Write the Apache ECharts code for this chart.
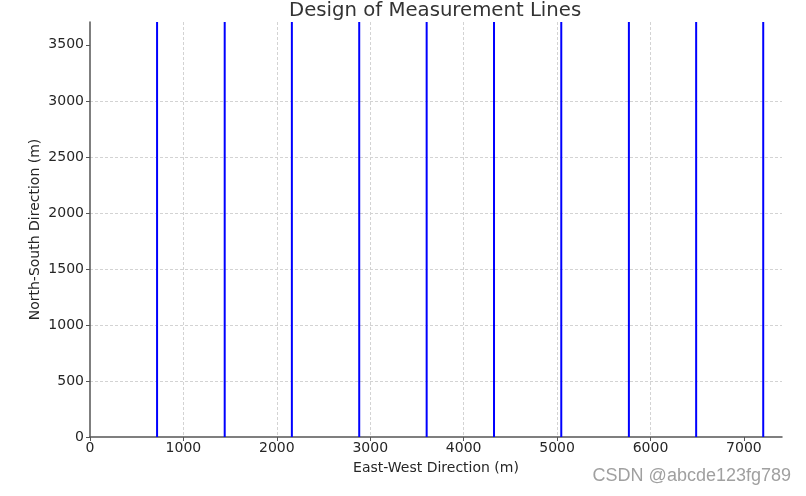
<!DOCTYPE html>
<html>
<head>
<meta charset="utf-8">
<script src="https://cdn.jsdelivr.net/npm/echarts@6/dist/echarts.min.js"></script>
<style>html,body{margin:0;padding:0;background:#fff}#c{width:806px;height:496px}</style>
</head>
<body>
<div id="c"></div>
<script>
var lineX = [718, 1442, 2161, 2882, 3604, 4325, 5045, 5769, 6489, 7207];
var xMax = 7408;
var yMax = 3704;
var xTicks = [0, 1000, 2000, 3000, 4000, 5000, 6000, 7000];
var yTicks = [0, 500, 1000, 1500, 2000, 2500, 3000, 3500];
var titleText = 'Design of Measurement Lines';
var xName = 'East-West Direction (m)';
var yName = 'North-South Direction (m)';

var chart = echarts.init(document.getElementById('c'));
var series = lineX.map(function (x) {
  return {
    type: 'line', symbol: 'none', silent: true,
    data: [[x, 0], [x, yMax]],
    lineStyle: { color: '#0000ff', width: 2 }
  };
});
var font = 'DejaVu Sans';
function fmt(v) { return String(v); }
chart.setOption({
  animation: false,
  title: { text: titleText, left: 284, top: -4,
    textStyle: { fontFamily: font, fontSize: 19.7, fontWeight: 'normal', color: '#333' } },
  grid: { left: 90, right: 24, top: 22, bottom: 59, containLabel: false },
  xAxis: {
    type: 'value', min: 0, max: xMax, interval: 1000,
    name: xName, nameLocation: 'middle', nameGap: 24,
    nameTextStyle: { fontFamily: font, fontSize: 14, color: '#262626' },
    axisLine: { show: true, onZero: false, lineStyle: { color: '#555', width: 1.5 } },
    axisTick: { show: true, length: 4, lineStyle: { color: '#555' }, customValues: xTicks },
    axisLabel: { fontFamily: font, fontSize: 14, color: '#262626', margin: 4, customValues: xTicks, formatter: fmt },
    splitLine: { show: true, showMinLine: false, showMaxLine: false, lineStyle: { color: '#d3d3d3', type: [3, 2], width: 1 } }
  },
  yAxis: {
    type: 'value', min: 0, max: yMax, interval: 500,
    name: yName, nameLocation: 'middle', nameGap: 48, nameMoveOverlap: false,
    nameTextStyle: { fontFamily: font, fontSize: 14, color: '#262626' },
    axisLine: { show: true, onZero: false, lineStyle: { color: '#555', width: 1.5 } },
    axisTick: { show: true, length: 4, lineStyle: { color: '#555' }, customValues: yTicks },
    axisLabel: { fontFamily: font, fontSize: 14, color: '#262626', margin: 6, customValues: yTicks, formatter: fmt },
    splitLine: { show: true, showMinLine: false, showMaxLine: false, lineStyle: { color: '#d3d3d3', type: [3, 2], width: 1 } }
  },
  graphic: [{
    type: 'text', right: 15, top: 467,
    style: { text: 'CSDN @abcde123fg789', fontFamily: 'Liberation Sans', fontSize: 18, fill: '#a0a0a0' }
  }],
  series: series
});
</script>
</body>
</html>
